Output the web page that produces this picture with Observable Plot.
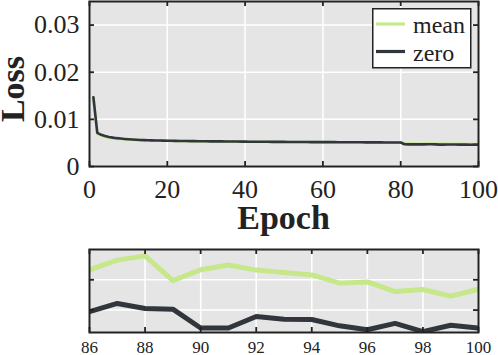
<!DOCTYPE html>
<html><head><meta charset="utf-8">
<script src="https://cdn.jsdelivr.net/npm/d3@7"></script>
<script src="https://cdn.jsdelivr.net/npm/@observablehq/plot@0.6"></script>
<style>
body{margin:0;background:#fff;}
#wrap{position:relative;width:498px;height:355px;overflow:hidden;}
#top,#inset,#over,#legend{position:absolute;left:0;}
#top{top:0}
#inset{top:230px}
#over{top:0;pointer-events:none}
#legend{left:372px;top:8px;}
svg, svg text{font-family:"Liberation Serif","Times New Roman",serif !important;}
</style></head><body>
<div id="wrap"><div id="top"></div><div id="inset"></div><div id="legend"></div><div id="over"></div></div>
<script>
// ---- data ----
const epochs = [1,2,3,4,5,6,7,8,9,10,11,12,13,14,15,16,17,18,19,20,21,22,23,24,25,26,27,28,29,30,31,32,33,34,35,36,37,38,39,40,41,42,43,44,45,46,47,48,49,50,51,52,53,54,55,56,57,58,59,60,61,62,63,64,65,66,67,68,69,70,71,72,73,74,75,76,77,78,79,80,81,82,83,84,85,86,87,88,89,90,91,92,93,94,95,96,97,98,99,100];
const zeroLoss = [
 0.0147,0.00712,0.00672,0.00645,0.00625,0.00612,0.00601,0.00593,0.00585,0.00578,
 0.00572,0.00567,0.00563,0.00560,0.00557,0.00554,0.00552,0.00550,0.00548,0.00546,
 0.00545,0.00544,0.00542,0.00541,0.00540,0.00539,0.00538,0.00537,0.00536,0.00535,
 0.00534,0.00533,0.00533,0.00532,0.00531,0.00530,0.00530,0.00529,0.00528,0.00527,
 0.00526,0.00526,0.00525,0.00525,0.00524,0.00524,0.00523,0.00523,0.00522,0.00522,
 0.00521,0.00521,0.00520,0.00520,0.00519,0.00519,0.00518,0.00518,0.00517,0.00517,
 0.00516,0.00516,0.00516,0.00515,0.00515,0.00514,0.00514,0.00514,0.00513,0.00513,
 0.00512,0.00512,0.00512,0.00511,0.00511,0.00510,0.00510,0.00510,0.00509,0.00509,
 0.00471,0.00470,0.00471,0.00469,0.00470,
 0.004695,0.004722,0.004705,0.004703,0.004641,0.004641,0.004679,0.004670,0.004669,0.004648,
 0.004635,0.004656,0.004629,0.004650,0.004641];
const meanLoss = [
 0.0146,0.00695,0.00655,0.00630,0.00612,0.00600,0.00592,0.00585,0.00579,0.00573,
 0.00569,0.00565,0.00561,0.00558,0.00555,0.00553,0.00551,0.00549,0.00547,0.00545,
 0.00544,0.00543,0.00541,0.00540,0.00539,0.00538,0.00537,0.00536,0.00535,0.00534,
 0.00533,0.00533,0.00532,0.00531,0.00530,0.00530,0.00529,0.00528,0.00528,0.00527,
 0.00526,0.00525,0.00525,0.00524,0.00524,0.00523,0.00523,0.00522,0.00522,0.00521,
 0.00521,0.00520,0.00520,0.00519,0.00519,0.00518,0.00518,0.00517,0.00517,0.00516,
 0.00516,0.00516,0.00515,0.00515,0.00514,0.00514,0.00514,0.00513,0.00513,0.00512,
 0.00512,0.00512,0.00511,0.00511,0.00510,0.00510,0.00510,0.00509,0.00509,0.00509,
 0.00484,0.00482,0.00485,0.00481,0.00483,
 0.004833,0.004865,0.004879,0.004797,0.004833,0.004849,0.004832,0.004824,0.004816,0.004789,
 0.004793,0.004761,0.004768,0.004746,0.004769];
const seriesNames = ["mean", "zero"];
const seriesColors = ["#c6e88b", "#30363b"];
const xTicksMain = [0,20,40,60,80,100];
const yTicksMain = [0,0.01,0.02,0.03];
const yTickLabelsMain = ["0","0.01","0.02","0.03"];
const xTicksInset = [86,88,90,92,94,96,98,100];
const yTicksInset = [0.0047,0.0048];
const xTitle = "Epoch", yTitle = "Loss";

const rows = [];
epochs.forEach((e,i) => {
  rows.push({epoch:e, loss:meanLoss[i], series:"mean"});
  rows.push({epoch:e, loss:zeroLoss[i], series:"zero"});
});
const insetRows = rows.filter(d => d.epoch >= 86);
const colorOf = s => seriesColors[seriesNames.indexOf(s)];

const bg = "#e5e5e5", frameCol = "#222", tickLen = 5;
const FONT = "'Liberation Serif', 'Times New Roman', serif";

function panel({W,H,mt,mb,ml,mr,xDom,yDom,xT,yT,yFmt,data,lw,showYLabels,fs,pad}) {
  const iw = W-ml-mr, ih = H-mt-mb;
  const marks = [
      Plot.frame({fill:bg}),
      Plot.ruleX(xT, {x:d=>d, stroke:"white", strokeWidth:1.5}),
      Plot.ruleY(yT, {y:d=>d, stroke:"white", strokeWidth:1.5}),
      Plot.line(data.filter(d=>d.series==="mean"), {x:"epoch", y:"loss", stroke:colorOf("mean"), strokeWidth:lw, clip:true}),
      Plot.line(data.filter(d=>d.series==="zero"), {x:"epoch", y:"loss", stroke:colorOf("zero"), strokeWidth:lw, clip:true}),
      Plot.tickX(xT, {x:d=>d, stroke:frameCol, strokeWidth:1.8, insetTop:ih-tickLen}),
      Plot.tickX(xT, {x:d=>d, stroke:frameCol, strokeWidth:1.8, insetBottom:ih-tickLen}),
      Plot.tickY(yT, {y:d=>d, stroke:frameCol, strokeWidth:1.8, insetRight:iw-tickLen}),
      Plot.tickY(yT, {y:d=>d, stroke:frameCol, strokeWidth:1.8, insetLeft:iw-tickLen}),
      Plot.frame({stroke:frameCol, strokeWidth:2}),
      Plot.axisX(xT, {anchor:"bottom", tickSize:0, tickPadding:pad, fontSize:fs, fill:"#222", label:null, fontFamily:FONT})
  ];
  if (showYLabels) marks.push(Plot.axisY(yT, {anchor:"left", tickSize:0, tickPadding:10, tickFormat:yFmt, fontSize:fs, fill:"#222", label:null, fontFamily:FONT}));
  return Plot.plot({
    width:W, height:H, marginTop:mt, marginBottom:mb, marginLeft:ml, marginRight:mr,
    x:{domain:xDom}, y:{domain:yDom, axis: showYLabels ? undefined : null},
    style:{fontFamily:FONT, fontSize:fs+"px", color:"#222", background:"transparent"},
    marks
  });
}

const topPlot = panel({
  W:498, H:240, mt:1, mb:74, ml:89, mr:20,
  xDom:[0,100], yDom:[0,0.035], xT:xTicksMain, yT:yTicksMain,
  yFmt:d=>yTickLabelsMain[yTicksMain.indexOf(d)], data:rows, lw:2.6, showYLabels:true, fs:26, pad:13
});
document.getElementById("top").appendChild(topPlot);

const insetPlot = panel({
  W:498, H:125, mt:19, mb:23, ml:89, mr:20,
  xDom:[86,100], yDom:[0.004626,0.0049], xT:xTicksInset, yT:yTicksInset,
  yFmt:null, data:insetRows, lw:5, showYLabels:false, fs:17, pad:8
});
document.getElementById("inset").appendChild(insetPlot);

// axis titles
const ov = d3.select("#over").append("svg").attr("width",498).attr("height",355);
ov.append("text").attr("x",283.5).attr("y",229).attr("text-anchor","middle")
  .attr("font-size",34).attr("font-weight","bold").attr("fill","#222").text(xTitle);
ov.append("text").attr("transform","translate(24,89) rotate(-90)").attr("text-anchor","middle")
  .attr("font-size",34).attr("font-weight","bold").attr("fill","#222").text(yTitle);

// legend
const lg = d3.select("#legend").append("svg").attr("width",100).attr("height",62);
lg.append("rect").attr("x",0.75).attr("y",0.75).attr("width",98).attr("height",59)
  .attr("fill","white").attr("stroke",frameCol).attr("stroke-width",1.5);
seriesNames.forEach((s,i) => {
  const cy = 16 + i*27.5;
  lg.append("line").attr("x1",4).attr("x2",33).attr("y1",cy).attr("y2",cy)
    .attr("stroke",seriesColors[i]).attr("stroke-width",3.2);
  lg.append("text").attr("x",41).attr("y",cy+9).attr("font-size",24).attr("fill","#222").text(s);
});
</script>
</body></html>
